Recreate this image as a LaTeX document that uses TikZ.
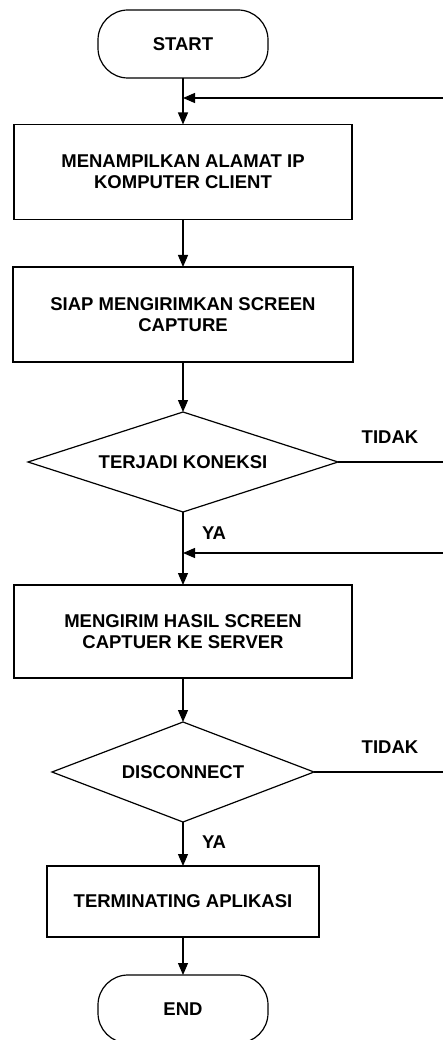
\documentclass[tikz,border=0pt]{standalone}
\usepackage{fontspec}
\setmainfont{Liberation Sans}
\usetikzlibrary{shapes.geometric,arrows.meta}
\begin{document}
\begin{tikzpicture}[x=1pt,y=-1pt,
  font=\fontsize{18.5}{21}\selectfont\bfseries,
  line width=1.2pt,
  every node/.style={inner sep=0pt, outer sep=0pt},
  term/.style={draw, rectangle, rounded corners=30pt, minimum width=170pt, minimum height=68pt},
  proc/.style={draw, rectangle, align=center},
  dec/.style={draw, diamond, shape aspect=3},
  arr/.style={-{Triangle[length=12pt,width=10pt]}},
  lbl/.style={}]
\useasboundingbox (0,0) rectangle (443,1040);
\node[term] (start) at (183,44) {START};
\node[proc, minimum width=338pt, minimum height=95pt] (b1) at (183,172) {MENAMPILKAN ALAMAT IP\\KOMPUTER CLIENT};
\node[proc, minimum width=340pt, minimum height=95pt] (b2) at (183,314.5) {SIAP MENGIRIMKAN SCREEN\\CAPTURE};
\node[dec, minimum width=310pt, minimum height=100pt] (d1) at (183,462) {TERJADI KONEKSI};
\node[proc, minimum width=338pt, minimum height=93pt] (b3) at (183,631.5) {MENGIRIM HASIL SCREEN\\CAPTUER KE SERVER};
\node[dec, minimum width=262pt, minimum height=100pt] (d2) at (183,772) {DISCONNECT};
\node[proc, minimum width=272pt, minimum height=71pt] (b4) at (183,901.5) {TERMINATING APLIKASI};
\node[term] (end) at (183,1009) {END};

\node[lbl] (tidak1) at (390,437) {TIDAK};
\node[lbl] (ya1) at (214,533) {YA};
\node[lbl] (tidak2) at (390,747) {TIDAK};
\node[lbl] (ya2) at (214,842) {YA};

\coordinate (r1) at (443,98);
\coordinate (r2) at (443,553);
\coordinate (t1) at (443,462);
\coordinate (t2) at (443,772);

\draw[arr] (start) -- (b1);
\draw[arr] (r1) -- (start.south |- r1);
\draw[arr] (b1) -- (b2);
\draw[arr] (b2) -- (d1);
\draw (d1.east) -- (t1);
\draw[arr] (d1) -- (b3);
\draw[arr] (r2) -- (d1.south |- r2);
\draw[arr] (b3) -- (d2);
\draw (d2.east) -- (t2);
\draw[arr] (d2) -- (b4);
\draw[arr] (b4) -- (end);
\end{tikzpicture}
\end{document}
